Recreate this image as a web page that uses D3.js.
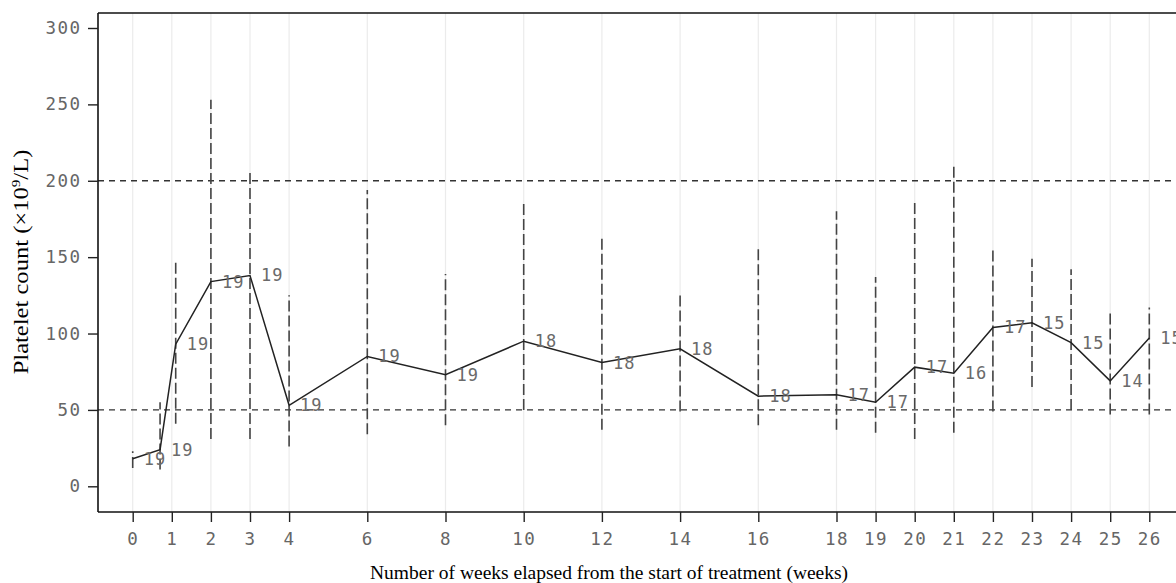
<!DOCTYPE html>
<html><head><meta charset="utf-8">
<script src="https://cdn.jsdelivr.net/npm/d3@7"></script>
<style>body{margin:0;background:#fff}svg{display:block}</style>
</head><body>
<svg id="c" width="1176" height="583"></svg>
<script>
const weeks = [0, 0.7, 1.1, 2, 3, 4, 6, 8, 10, 12, 14, 16, 18, 19, 20, 21, 22, 23, 24, 25, 26];
const means = [18, 24, 93, 134, 138, 53, 85, 73, 95, 81, 90, 59, 60, 55, 78, 74, 104, 107, 94, 69, 97];
const lows  = [12, 11, 41, 31, 31, 26, 34, 40, 50, 37, 49, 40, 37, 35, 31, 35, 49, 65, 50, 47, 47];
const highs = [23, 55, 149, 253, 206, 125, 194, 139, 186, 163, 125, 156, 180, 137, 187, 210, 155, 149, 142, 115, 117];
const counts = [19, 19, 19, 19, 19, 19, 19, 19, 18, 18, 18, 18, 17, 17, 17, 16, 17, 15, 15, 14, 15];
const xTicks = [0, 1, 2, 3, 4, 6, 8, 10, 12, 14, 16, 18, 19, 20, 21, 22, 23, 24, 25, 26];
const yTicks = [0, 50, 100, 150, 200, 250, 300];
const refLines = [50, 200];

const svg = d3.select("#c");
const L = 98, T = 13, B = 512, R = 1190;
const x = d3.scaleLinear().domain([0, 26]).range([132.7, 1149.3]);
const y = d3.scaleLinear().domain([0, 300]).range([486.3, 28]);

// vertical grid
svg.append("g").selectAll("line").data(xTicks).join("line")
  .attr("x1", d => x(d)).attr("x2", d => x(d)).attr("y1", T).attr("y2", B)
  .attr("stroke", "#ebebeb").attr("stroke-width", 1.2);

// reference lines
svg.append("g").selectAll("line").data(refLines).join("line")
  .attr("x1", L).attr("x2", R).attr("y1", d => y(d)).attr("y2", d => y(d))
  .attr("stroke", "#333").attr("stroke-width", 1.3).attr("stroke-dasharray", "6,5");

// error bars
svg.append("g").selectAll("line").data(weeks).join("line")
  .attr("x1", d => x(d)).attr("x2", d => x(d))
  .attr("y1", (d, i) => y(lows[i])).attr("y2", (d, i) => y(highs[i]))
  .attr("stroke", "#444").attr("stroke-width", 1.6).attr("stroke-dasharray", "11,4");

// mean line
const line = d3.line().x((d, i) => x(weeks[i])).y(d => y(d));
svg.append("path").datum(means).attr("d", line)
  .attr("fill", "none").attr("stroke", "#222").attr("stroke-width", 1.5);

// n labels
svg.append("g").selectAll("text").data(counts).join("text")
  .attr("x", (d, i) => x(weeks[i]) + 11).attr("y", (d, i) => y(means[i]) + 1)
  .attr("dominant-baseline", "middle")
  .attr("font-family", "DejaVu Sans Mono").attr("font-size", 17).attr("letter-spacing", 1).attr("fill", "#6a6a6a")
  .text(d => d);

// frame
svg.append("line").attr("x1", L).attr("x2", R).attr("y1", T).attr("y2", T).attr("stroke", "#111").attr("stroke-width", 1.5);

const xAxis = svg.append("g").attr("transform", `translate(0,${B})`)
  .call(d3.axisBottom(x).tickValues(xTicks).tickSize(10).tickPadding(11).tickFormat(d3.format("d")));
xAxis.select(".domain").attr("d", `M${L},0H${R}`).attr("stroke", "#111").attr("stroke-width", 1.6);
const yAxis = svg.append("g").attr("transform", `translate(${L},0)`)
  .call(d3.axisLeft(y).tickValues(yTicks).tickSize(10).tickPadding(8));
yAxis.select(".domain").attr("d", `M0,${T}V${B}`).attr("stroke", "#111").attr("stroke-width", 1.6);
svg.selectAll(".tick line").attr("stroke", "#222").attr("stroke-width", 1.4);
svg.selectAll(".tick text").attr("font-family", "DejaVu Sans Mono").attr("font-size", 17.5)
  .attr("letter-spacing", 1.5).attr("fill", "#666");
yAxis.selectAll(".tick text").attr("dx", 1.5);

// titles
svg.append("text").attr("x", 370).attr("y", 579).attr("text-anchor", "start")
  .attr("font-family", "Liberation Serif").attr("font-size", 19.5).attr("fill", "#000")
  .text("Number of weeks elapsed from the start of treatment (weeks)");
const yt = svg.append("text").attr("transform", "translate(28,262) rotate(-90) scale(1.17,1)").attr("text-anchor", "middle")
  .attr("font-family", "Liberation Serif").attr("font-size", 21).attr("fill", "#000");
yt.append("tspan").text("Platelet count (×10");
yt.append("tspan").attr("dy", -8).attr("font-size", 13).text("9");
yt.append("tspan").attr("dy", 8).text("/L)");
</script>
</body></html>
